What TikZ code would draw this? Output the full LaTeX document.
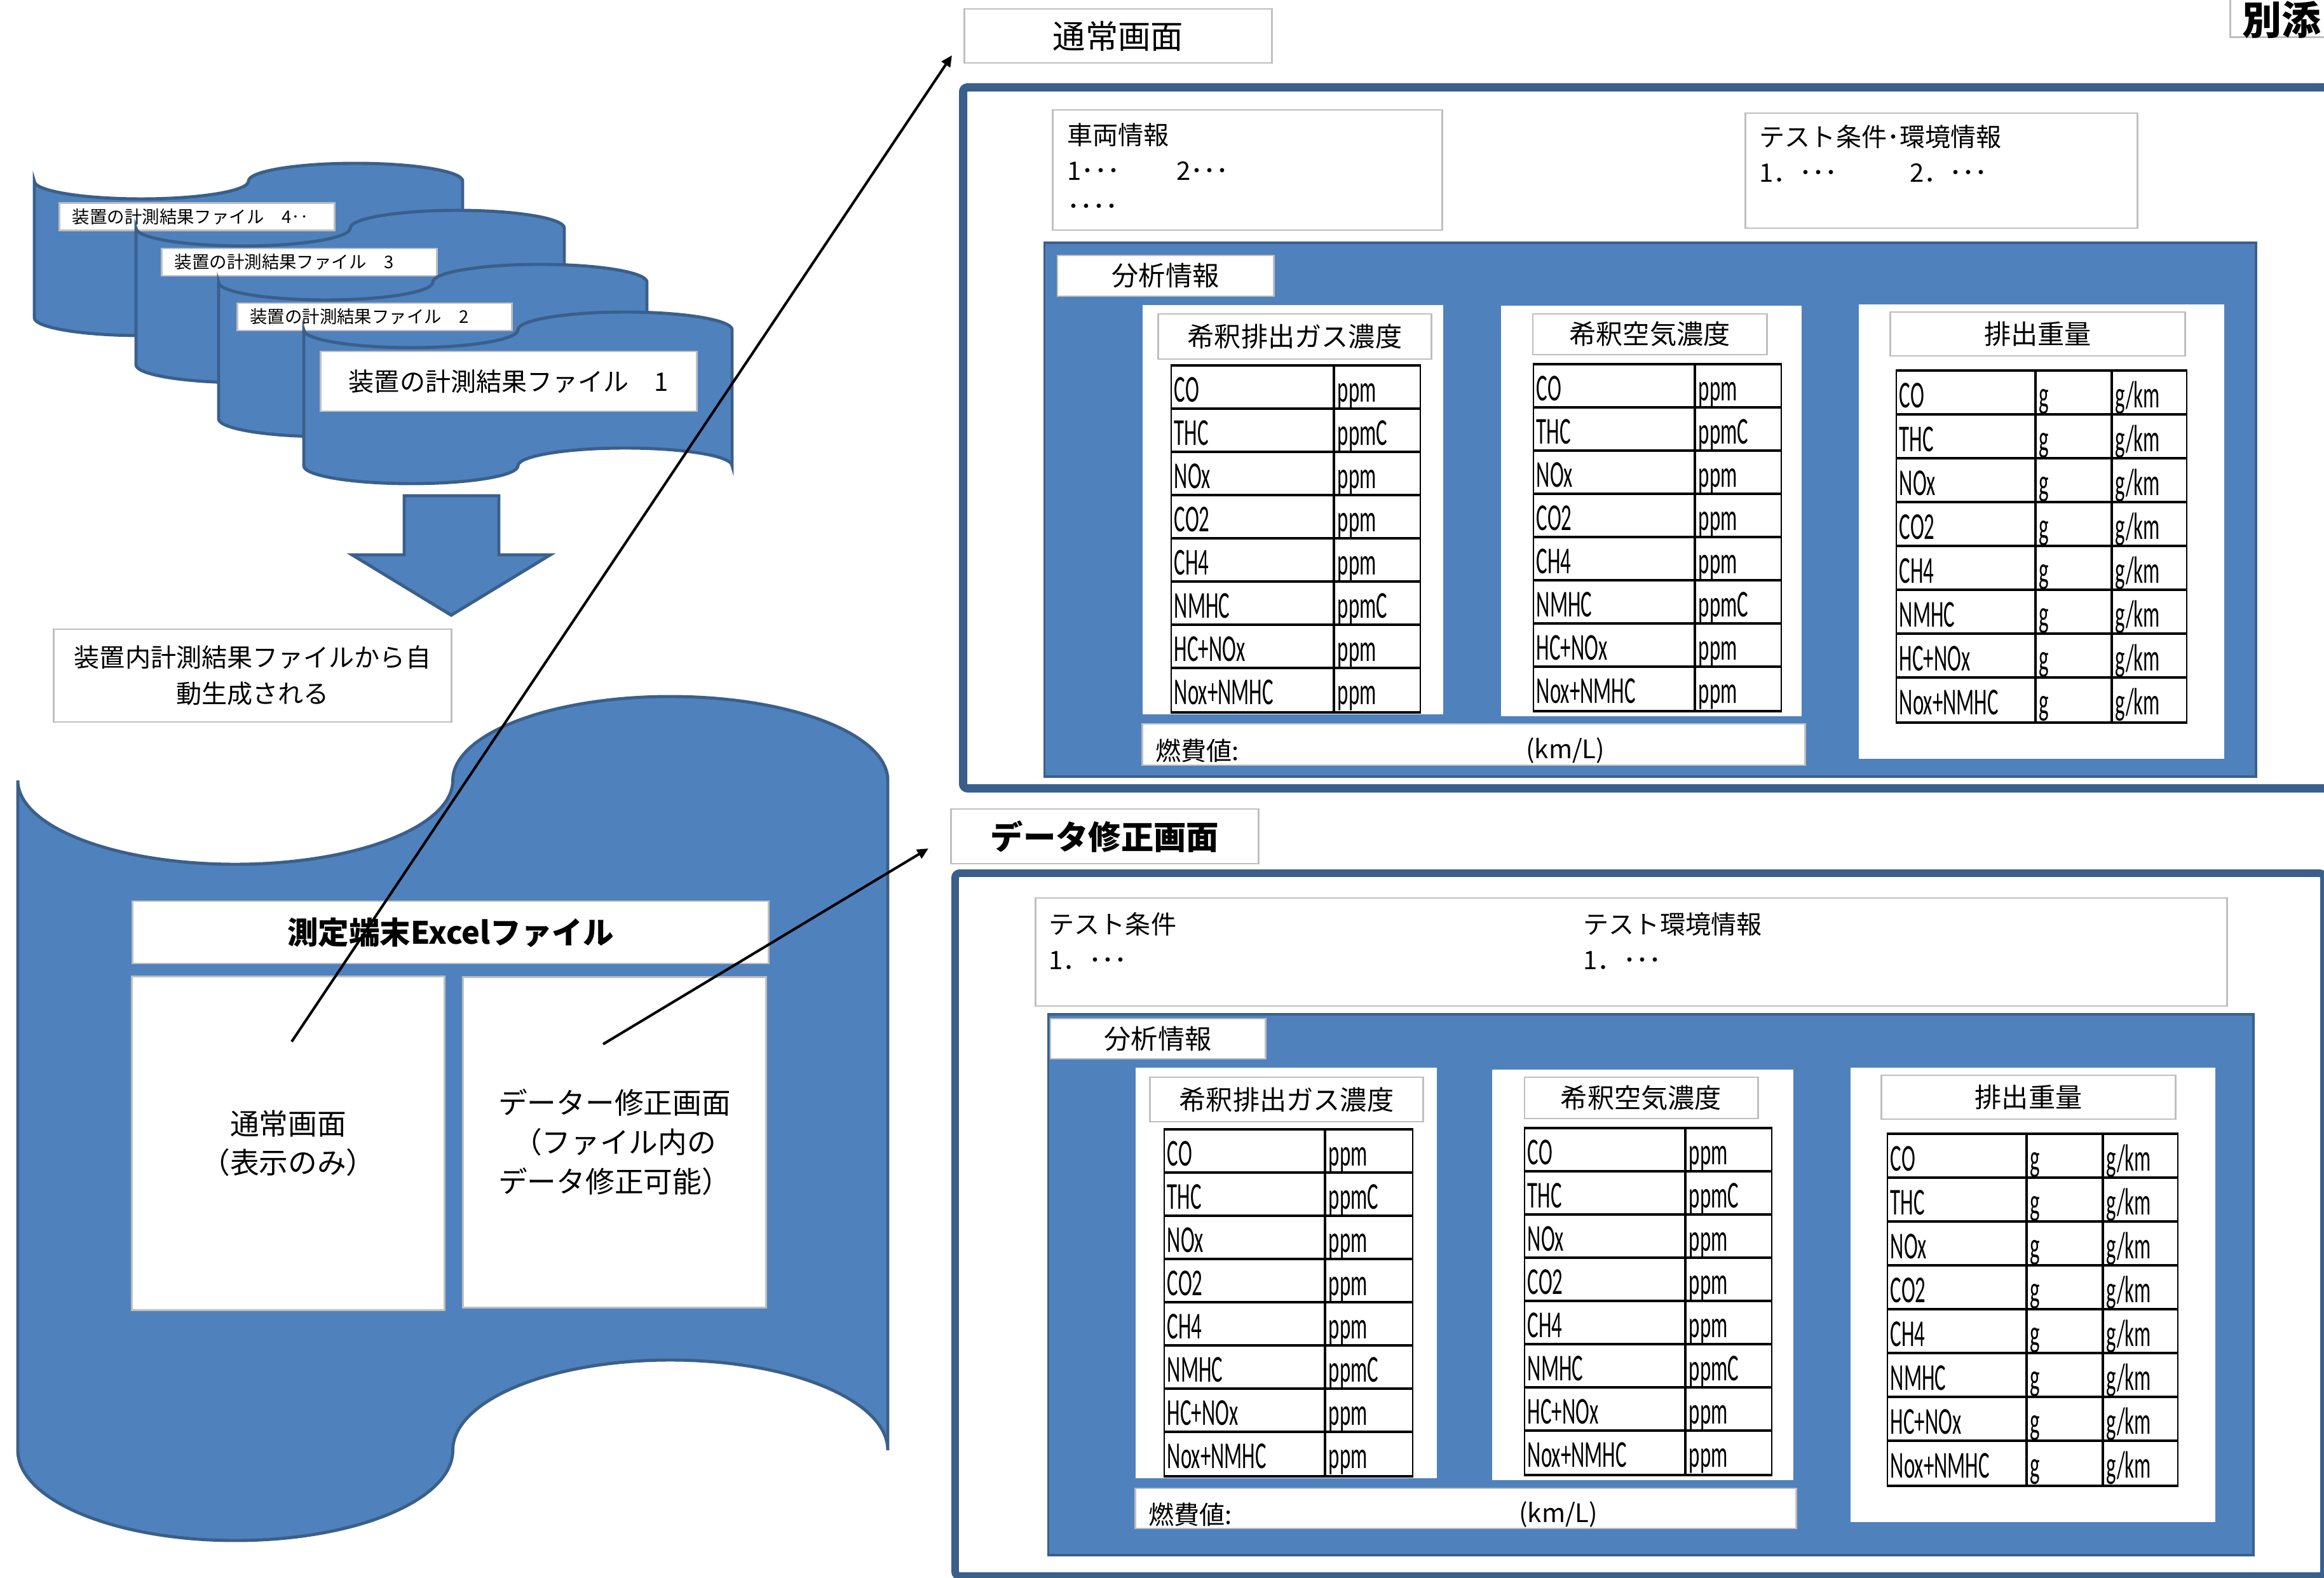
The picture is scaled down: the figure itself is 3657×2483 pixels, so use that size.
\documentclass[tikz,border=0pt]{standalone}
\usepackage{fontspec}
\setmainfont{Noto Sans CJK JP}
\newfontfamily\tablefont[FakeStretch=0.55]{Carlito}
\usetikzlibrary{arrows.meta,positioning}

\definecolor{drumblue}{HTML}{4F81BD}
\definecolor{drumline}{HTML}{3A5F8B}
\definecolor{boxgray}{HTML}{BFBFBF}

\newcommand{\fntTag}{\fontsize{7.8pt}{9pt}\selectfont}
\newcommand{\fntBody}{\fontsize{11.4pt}{16pt}\selectfont}
\newcommand{\fntMid}{\fontsize{12pt}{16pt}\selectfont}
\newcommand{\fntBox}{\fontsize{13pt}{17.6pt}\selectfont}
\newcommand{\fntExcel}{\fontsize{13.8pt}{16pt}\selectfont}
\newcommand{\fntHead}{\fontsize{14.6pt}{18pt}\selectfont}
\newcommand{\fntTab}{\fontsize{17pt}{18pt}\selectfont}

\tikzstyle{graybox} = [rectangle, draw=boxgray, line width=0.8pt, fill=white, inner sep=0pt]
\tikzstyle{sheet} = [rectangle, fill=white, inner sep=0pt]
\tikzstyle{panel} = [rectangle, draw=drumline, line width=1.1pt, fill=drumblue, inner sep=0pt]
\tikzstyle{drum} = [draw=drumline, line width=1.4pt, fill=drumblue]
\tikzstyle{frame} = [draw=drumline, rounded corners=2pt]
\tikzstyle{link} = [draw, line width=1.15pt, -{Triangle[length=5pt,width=4.5pt]}]
\tikzstyle{cell} = [rectangle, draw, line width=0.5pt, inner ysep=0pt, inner xsep=0.05cm,
    text height=0.57cm, text depth=0.11cm, align=left, font=\tablefont\fntTab]
\tikzstyle{rowline} = [draw, line width=1.1pt]
\tikzstyle{plain} = [inner sep=0pt, align=left, font=\fntBody]

% gas / unit table: name, x, y, width col 1, width col 2
\newcommand{\conctable}[5]{%
  \foreach \gas/\unit [count=\i from 0] in {CO/ppm,THC/ppmC,NOx/ppm,CO2/ppm,CH4/ppm,NMHC/ppmC,HC+NOx/ppm,Nox+NMHC/ppm}{
    \node[cell, text width=#4cm, anchor=north west] (#1gas\i) at (#2,{#3+68*\i}) {\gas};
    \node[cell, text width=#5cm, anchor=north west] (#1unit\i) at (#1gas\i.north east) {\unit};
    \draw[rowline] (#1gas\i.north west) -- (#1unit\i.north east);
  }
  \draw[rowline] (#1gas7.south west) -- (#1unit7.south east);
}
% mass table: name, x, y
\newcommand{\masstable}[3]{%
  \foreach \gas [count=\i from 0] in {CO,THC,NOx,CO2,CH4,NMHC,HC+NOx,Nox+NMHC}{
    \node[cell, text width=2.08cm, text height=0.58cm, anchor=north west] (#1gas\i) at (#2,{#3+69*\i}) {\gas};
    \node[cell, text width=1.08cm, text height=0.58cm, anchor=north west] (#1g\i) at (#1gas\i.north east) {g};
    \node[cell, text width=1.07cm, text height=0.58cm, anchor=north west] (#1gkm\i) at (#1g\i.north east) {g/km};
    \draw[rowline] (#1gas\i.north west) -- (#1gkm\i.north east);
  }
  \draw[rowline] (#1gas7.south west) -- (#1gkm7.south east);
}

\begin{document}
\begin{tikzpicture}[x=0.01cm, y=-0.01cm]
    \useasboundingbox (0,0) rectangle (3657,2483);
    \clip (0,0) rectangle (3657,2483);

    % stacked result files
    \foreach \dx/\dy/\tx/\ty/\num [count=\k] in {54/285/310/341/4‥, 214/359/471/412.5/3, 344/444/589.5/498.5/2}{
        \draw[drum] (\dx,\dy) arc[start angle=180,end angle=0,x radius=168.5,y radius=28]
            arc[start angle=180,end angle=360,x radius=168.5,y radius=28] -- ++(0,215)
            arc[start angle=0,end angle=-180,x radius=168.5,y radius=28]
            arc[start angle=0,end angle=180,x radius=168.5,y radius=28] -- cycle;
        \node[graybox, minimum width=4.32cm, minimum height=0.43cm, text width=3.92cm, inner xsep=0.2cm,
            align=left, font=\fntTag] (fileTag\k) at (\tx,\ty) {装置の計測結果ファイル　\num};
    }
    \draw[drum] (478,519) arc[start angle=180,end angle=0,x radius=168.5,y radius=28]
        arc[start angle=180,end angle=360,x radius=168.5,y radius=28] -- ++(0,214)
        arc[start angle=0,end angle=-180,x radius=168.5,y radius=28]
        arc[start angle=0,end angle=180,x radius=168.5,y radius=28] -- cycle;
    \node[graybox, minimum width=5.91cm, minimum height=0.94cm, font=\fntBody] (fileTagOne) at (800.5,600) {装置の計測結果ファイル　1};

    % block arrow
    \draw[drum] (636,780) -- (785,780) -- (785,873) -- (866,873) -- (710,968) -- (554,873) -- (636,873) -- cycle;
    \node[graybox, minimum width=6.25cm, minimum height=1.46cm, align=center, font=\fntBody] (autoNote) at (397.5,1063) {装置内計測結果ファイルから自\\動生成される};

    % terminal excel file
    \draw[drum] (28,1228) arc[start angle=180,end angle=0,x radius=342.25,y radius=132]
        arc[start angle=180,end angle=360,x radius=342.25,y radius=132] -- ++(0,1054)
        arc[start angle=0,end angle=-180,x radius=342.25,y radius=142]
        arc[start angle=0,end angle=180,x radius=342.25,y radius=142] -- cycle;
    \node[graybox, minimum width=10cm, minimum height=0.98cm, font=\fntExcel\bfseries] (excelTitle) at (709,1467) {測定端末Excelファイル};
    \node[graybox, minimum width=4.91cm, minimum height=5.24cm, align=center, font=\fntBox] (normalView) at (453.5,1799) {通常画面\\（表示のみ）};
    \node[graybox, minimum width=4.76cm, minimum height=5.19cm, align=center, font=\fntBox] (editView) at (967,1797.5) {データー修正画面\\（ファイル内の\\データ修正可能）};

    % annex mark
    \node[graybox, minimum width=2cm, minimum height=1cm, anchor=south west] (annexBox) at (3508,60) {};
    \node[plain, font=\fontsize{17.6pt}{18pt}\selectfont\bfseries] (annex) at (3590,31) {別添};

    % normal screen
    \node[graybox, minimum width=4.83cm, minimum height=0.85cm, font=\fntHead] (normalTitle) at (1759.5,56.5) {通常画面};
    \draw[frame, line width=3.7pt] (1515.5,137.5) rectangle (3720,1240.5);
    \node[graybox, minimum width=6.12cm, minimum height=1.89cm] (vehicleBox) at (1963,267.5) {};
    \node[plain, anchor=north west] (vehicleText) at (1679,193) {車両情報\\1･･･\hspace{0.89cm}2･･･\\････};
    \node[graybox, minimum width=6.16cm, minimum height=1.81cm] (testBox) at (3055,268.5) {};
    \node[plain, anchor=north west] (testText) at (2768,196) {テスト条件･環境情報\\1．･･･\hspace{1.14cm}2．･･･};
    \node[panel, minimum width=19.05cm, minimum height=8.4cm] (analysisA) at (2596.5,802) {};
    \node[graybox, minimum width=3.4cm, minimum height=0.64cm, font=\fntMid] (analysisTagA) at (1834,434) {分析情報};
    \node[sheet, minimum width=4.73cm, minimum height=6.44cm] (exhaustA) at (2034.5,802) {};
    \node[graybox, minimum width=4.29cm, minimum height=0.71cm, font=\fntMid] (exhaustTitleA) at (2037.5,529.5) {希釈排出ガス濃度};
    \conctable{exA}{1842}{575}{2.45}{1.25}
    \node[sheet, minimum width=4.73cm, minimum height=6.46cm] (airA) at (2598.5,804) {};
    \node[graybox, minimum width=3.68cm, minimum height=0.64cm, font=\fntMid] (airTitleA) at (2596,526) {希釈空気濃度};
    \conctable{airA}{2412}{573}{2.43}{1.25}
    \node[sheet, minimum width=5.75cm, minimum height=7.15cm] (massA) at (3212.5,836.5) {};
    \node[graybox, minimum width=4.63cm, minimum height=0.69cm, font=\fntMid] (massTitleA) at (3206.5,525.5) {排出重量};
    \masstable{msA}{2983}{583}
    \node[graybox, minimum width=10.42cm, minimum height=0.65cm] (fuelA) at (2319,1171.5) {};
    \node[plain, anchor=west] (fuelLabelA) at ([xshift=0.21cm,yshift=-0.1cm]fuelA.west) {燃費値:};
    \node[plain, anchor=west] (fuelUnitA) at ([xshift=6.04cm,yshift=-0.1cm]fuelA.west) {(km/L)};

    % data correction screen
    \node[graybox, minimum width=4.83cm, minimum height=0.86cm, font=\fntHead\bfseries] (editTitle) at (1738.5,1316) {データ修正画面};
    \draw[frame, line width=3.4pt] (1503,1374) rectangle (3657,2480);
    \node[graybox, minimum width=18.74cm, minimum height=1.7cm] (testBoxB) at (2567,1498) {};
    \node[plain, anchor=north west] (condText) at (1650,1435) {テスト条件\\1．･･･};
    \node[plain, anchor=north west] (envText) at (2491,1435) {テスト環境情報\\1．･･･};
    \node[panel, minimum width=18.95cm, minimum height=8.51cm] (analysisB) at (2597.5,2021.5) {};
    \node[graybox, minimum width=3.38cm, minimum height=0.63cm, font=\fntMid] (analysisTagB) at (1822,1634.5) {分析情報};
    \node[sheet, minimum width=4.74cm, minimum height=6.46cm] (exhaustB) at (2024,2003) {};
    \node[graybox, minimum width=4.29cm, minimum height=0.7cm, font=\fntMid] (exhaustTitleB) at (2024.5,1730) {希釈排出ガス濃度};
    \conctable{exB}{1831}{1777}{2.42}{1.27}
    \node[sheet, minimum width=4.74cm, minimum height=6.46cm] (airB) at (2585,2006) {};
    \node[graybox, minimum width=3.67cm, minimum height=0.65cm, font=\fntMid] (airTitleB) at (2582.5,1727.5) {希釈空気濃度};
    \conctable{airB}{2398}{1775}{2.42}{1.25}
    \node[sheet, minimum width=5.74cm, minimum height=7.15cm] (massB) at (3199,2037.5) {};
    \node[graybox, minimum width=4.62cm, minimum height=0.69cm, font=\fntMid] (massTitleB) at (3192,1726.5) {排出重量};
    \masstable{msB}{2969}{1784}
    \node[graybox, minimum width=10.39cm, minimum height=0.63cm] (fuelB) at (2306.5,2373.5) {};
    \node[plain, anchor=west] (fuelLabelB) at ([xshift=0.21cm,yshift=-0.1cm]fuelB.west) {燃費値:};
    \node[plain, anchor=west] (fuelUnitB) at ([xshift=6.04cm,yshift=-0.1cm]fuelB.west) {(km/L)};

    % links to the screens
    \coordinate (viewFrom) at (459,1639);
    \coordinate (viewTo) at (1498,87);
    \coordinate (editFrom) at (949,1643);
    \coordinate (editTo) at (1461,1335);
    \path[link] (viewFrom) -- (viewTo);
    \path[link] (editFrom) -- (editTo);
\end{tikzpicture}
\end{document}
